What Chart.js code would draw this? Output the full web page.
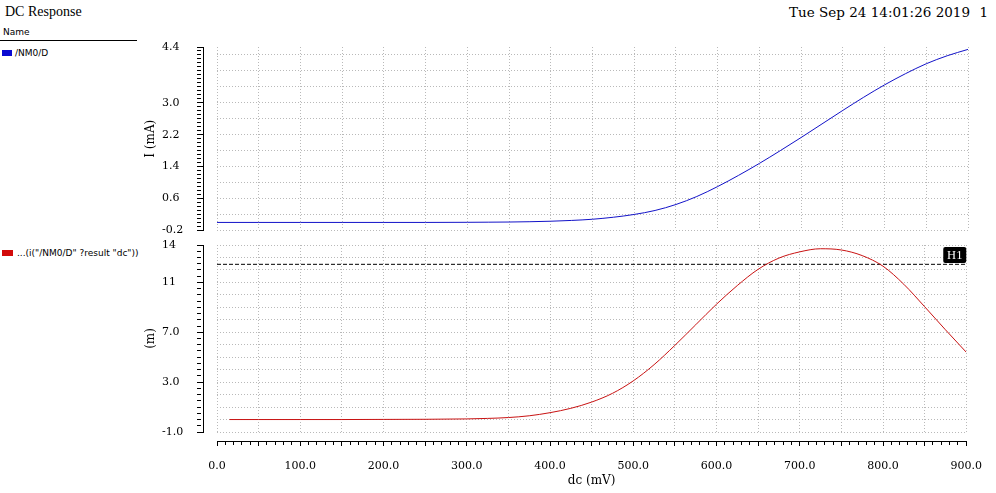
<!DOCTYPE html>
<html>
<head>
<meta charset="utf-8">
<script src="https://cdn.jsdelivr.net/npm/chart.js@4.4.0/dist/chart.umd.min.js"></script>
<style>
  html, body { margin: 0; padding: 0; background: #fff; }
  body { width: 996px; height: 493px; position: relative; overflow: hidden; }
  .txt { position: absolute; white-space: pre; color: #000; }
  #title { left: 5px; top: 4px; font: 14px "Liberation Serif", serif; }
  #date  { right: 26px; top: 4px; font: 13.5px "DejaVu Serif", serif; }
  #page  { right: 8px; top: 4px; font: 13.5px "DejaVu Serif", serif; }
  #nameHdr { left: 3px; top: 27px; font: 9px "DejaVu Sans", sans-serif; }
  #rule { position: absolute; left: 0; top: 40px; width: 137px; height: 1px; background: #000; }
  .leg { position: absolute; left: 2px; font: 9px "DejaVu Sans", sans-serif; white-space: pre; line-height: 11px; }
  .sw { display: inline-block; width: 10px; height: 6px; margin-right: 3px; vertical-align: 0px; }
  .box { position: absolute; left: 0; width: 996px; }
</style>
</head>
<body>
<div class="txt" id="title">DC Response</div>
<div class="txt" id="date">Tue Sep 24 14:01:26 2019</div>
<div class="txt" id="page">1</div>
<div class="txt" id="nameHdr">Name</div>
<div id="rule"></div>
<div class="leg" style="top:48px"><span class="sw" style="background:#0a0ad2"></span>/NM0/D</div>
<div class="leg" style="top:248px"><span class="sw" style="background:#d20a0a;width:11px;margin-right:4px"></span>...(i("/NM0/D" ?result "dc"))</div>

<div class="box" style="top:0;height:240px"><canvas id="topChart" width="996" height="240"></canvas></div>
<div class="box" style="top:235px;height:258px"><canvas id="botChart" width="996" height="258"></canvas></div>

<script>
/* data ----------------------------------------------------------- */
const dcDrain   = [0, 50, 100, 150, 200, 250, 300, 325, 350, 375, 400, 425, 450, 475, 500, 525,
                   550, 575, 600, 625, 650, 675, 700, 725, 750, 775, 800, 825, 850, 875, 900];
const drainMA   = [0, 0, 0, 0, 0, 0, 0.003, 0.006, 0.01, 0.018, 0.03, 0.05, 0.08, 0.13, 0.2, 0.3,
                   0.45, 0.65, 0.9, 1.18, 1.48, 1.8, 2.13, 2.47, 2.81, 3.14, 3.45, 3.73, 3.98, 4.18, 4.34];

const dcDeriv   = [15, 50, 100, 150, 200, 250, 300, 325, 350, 375, 400, 425, 450, 475, 500, 525,
                   550, 575, 600, 625, 650, 675, 700, 725, 750, 775, 800, 825, 850, 875, 900];
const derivM    = [0, 0, 0, 0, 0.01, 0.02, 0.05, 0.09, 0.16, 0.3, 0.55, 0.9, 1.4, 2.1, 3.1, 4.4,
                   5.95, 7.6, 9.25, 10.75, 12.05, 12.95, 13.45, 13.7, 13.6, 13.15, 12.3, 10.85, 9.05, 7.2, 5.4];

const h1Level   = [12.45];

const xTickVals   = [0, 100, 200, 300, 400, 500, 600, 700, 800, 900];
const xTickText   = ['0.0', '100.0', '200.0', '300.0', '400.0', '500.0', '600.0', '700.0', '800.0', '900.0'];
const iTickVals   = [-0.2, 0.6, 1.4, 2.2, 3.0, 4.4];
const iTickText   = ['-0.2', '0.6', '1.4', '2.2', '3.0', '4.4'];
const mTickVals   = [-1, 3, 7, 11, 14];
const mTickText   = ['-1.0', '3.0', '7.0', '11', '14'];

/* helpers ---------------------------------------------------------- */
const GRID = '#b9b9b9';
const TICK_FONT  = { family: 'DejaVu Serif', size: 11 };
const TITLE_FONT = { family: 'DejaVu Serif', size: 12 };

const near = (a, b) => Math.abs(a - b) < 1e-6;
const pts = (xs, ys) => xs.map((x, i) => ({ x, y: ys[i] }));

function fixSize(w, h) {
  return s => { if (w != null) s.width = w; if (h != null) s.height = h; };
}
function stepTicks(min, max, step) {
  return s => {
    const n = Math.round((max - min) / step);
    const t = [];
    for (let i = 0; i <= n; i++) t.push({ value: Math.round((min + i * step) * 1000) / 1000 });
    s.ticks = t;
  };
}
function labeler(vals, text) {
  return v => { const i = vals.findIndex(k => near(k, v)); return i < 0 ? '' : text[i]; };
}
function isLabeled(vals) {
  return ctx => ctx.tick && vals.some(k => near(k, ctx.tick.value));
}

// dotted grid-only scale, sits next to the plot area
function gridScale(pos, min, max, gmin, gmax, step, size) {
  return {
    type: 'linear', position: pos, min, max, weight: 0,
    afterBuildTicks: stepTicks(gmin, gmax, step),
    afterFit: pos === 'left' ? fixSize(size, null) : fixSize(null, size),
    ticks: { display: false },
    grid: { color: GRID, lineWidth: 1, drawTicks: false },
    border: { display: false, dash: [1, 2] }
  };
}

// y axis with the black line, comb ticks and labels
function yAxisScale(min, max, step, vals, text, title) {
  const major = isLabeled(vals);
  return {
    type: 'linear', position: 'left', min, max, weight: 1,
    afterBuildTicks: stepTicks(min, max, step),
    afterFit: fixSize(41, null),
    ticks: { autoSkip: false, crossAlign: 'far', color: '#000', font: TICK_FONT,
             callback: labeler(vals, text) },
    grid: { drawOnChartArea: false, drawTicks: true, tickLength: 6, tickColor: '#000', tickWidth: 1,
            tickBorderDash: ctx => major(ctx) ? [] : [4, 30] },
    border: { display: true, color: '#000', width: 1 },
    title: { display: true, text: title, color: '#000', font: TITLE_FONT, padding: { top: -18, bottom: 0 } }
  };
}

const h1Tag = {
  id: 'h1Tag',
  afterDatasetsDraw(chart) {
    const y = Math.round(chart.scales.y.getPixelForValue(h1Level[0]));
    const r = chart.chartArea.right;
    const ctx = chart.ctx;
    ctx.save();
    ctx.fillStyle = '#000';
    ctx.beginPath();
    ctx.roundRect(r - 23, y - 17, 23, 16, 2);
    ctx.fill();
    ctx.fillStyle = '#fff';
    ctx.font = '12.5px "Liberation Serif"';
    ctx.textAlign = 'center';
    ctx.textBaseline = 'middle';
    ctx.fillText('H1', r - 11.5, y - 8.5);
    ctx.restore();
  }
};

const common = {
  responsive: false,
  animation: false,
  events: [],
  plugins: { legend: { display: false }, tooltip: { enabled: false } }
};

/* top: drain current ---------------------------------------------- */
new Chart(document.getElementById('topChart'), {
  type: 'line',
  data: {
    datasets: [{
      label: '/NM0/D',
      data: pts(dcDrain, drainMA),
      borderColor: '#1212c8', borderWidth: 1, pointRadius: 0,
      cubicInterpolationMode: 'monotone', xAxisID: 'x', yAxisID: 'y'
    }]
  },
  options: {
    ...common,
    layout: { padding: { left: 162, right: 28, top: 47, bottom: 9 } },
    scales: {
      x: gridScale('bottom', 0, 900, 0, 900, 50, 0),
      y: gridScale('left', -0.2, 4.4, -0.2, 4.2, 0.4, 14),
      yAxis: yAxisScale(-0.2, 4.4, 0.1, iTickVals, iTickText, 'I (mA)')
    }
  }
});

/* bottom: derivative ---------------------------------------------- */
const xMajor = ctx => ctx.tick && ctx.tick.value % 50 === 0;

new Chart(document.getElementById('botChart'), {
  type: 'line',
  data: {
    datasets: [{
      label: '...(i("/NM0/D" ?result "dc"))',
      data: pts(dcDeriv, derivM),
      borderColor: '#c81212', borderWidth: 1, pointRadius: 0,
      cubicInterpolationMode: 'monotone', xAxisID: 'x', yAxisID: 'y'
    }, {
      label: 'H1',
      data: [{ x: 0, y: h1Level[0] }, { x: 900, y: h1Level[0] }],
      borderColor: '#000', borderWidth: 1, borderDash: [4, 2], pointRadius: 0,
      xAxisID: 'x', yAxisID: 'y'
    }]
  },
  options: {
    ...common,
    layout: { padding: { left: 162, right: 28, top: 10, bottom: 0 } },
    scales: {
      x: gridScale('bottom', 0, 900, 0, 900, 50, 9),
      xAxis: {
        type: 'linear', position: 'bottom', min: 0, max: 900, weight: 1,
        afterBuildTicks: stepTicks(0, 900, 10),
        afterFit: fixSize(null, 52),
        ticks: { autoSkip: false, maxRotation: 0, padding: 14, color: '#000', font: TICK_FONT,
                 callback: labeler(xTickVals, xTickText) },
        grid: { drawOnChartArea: false, drawTicks: true, tickLength: 5, tickColor: '#000', tickWidth: 1,
                tickBorderDash: ctx => xMajor(ctx) ? [] : [3, 30] },
        border: { display: true, color: '#000', width: 1 },
        title: { display: true, text: 'dc (mV)', color: '#000', font: TITLE_FONT, padding: { top: 0, bottom: 5 } }
      },
      y: gridScale('left', -1, 14, -1, 14, 1, 14),
      yAxis: yAxisScale(-1, 14, 0.5, mTickVals, mTickText, '(m)')
    }
  },
  plugins: [h1Tag]
});
</script>
</body>
</html>
